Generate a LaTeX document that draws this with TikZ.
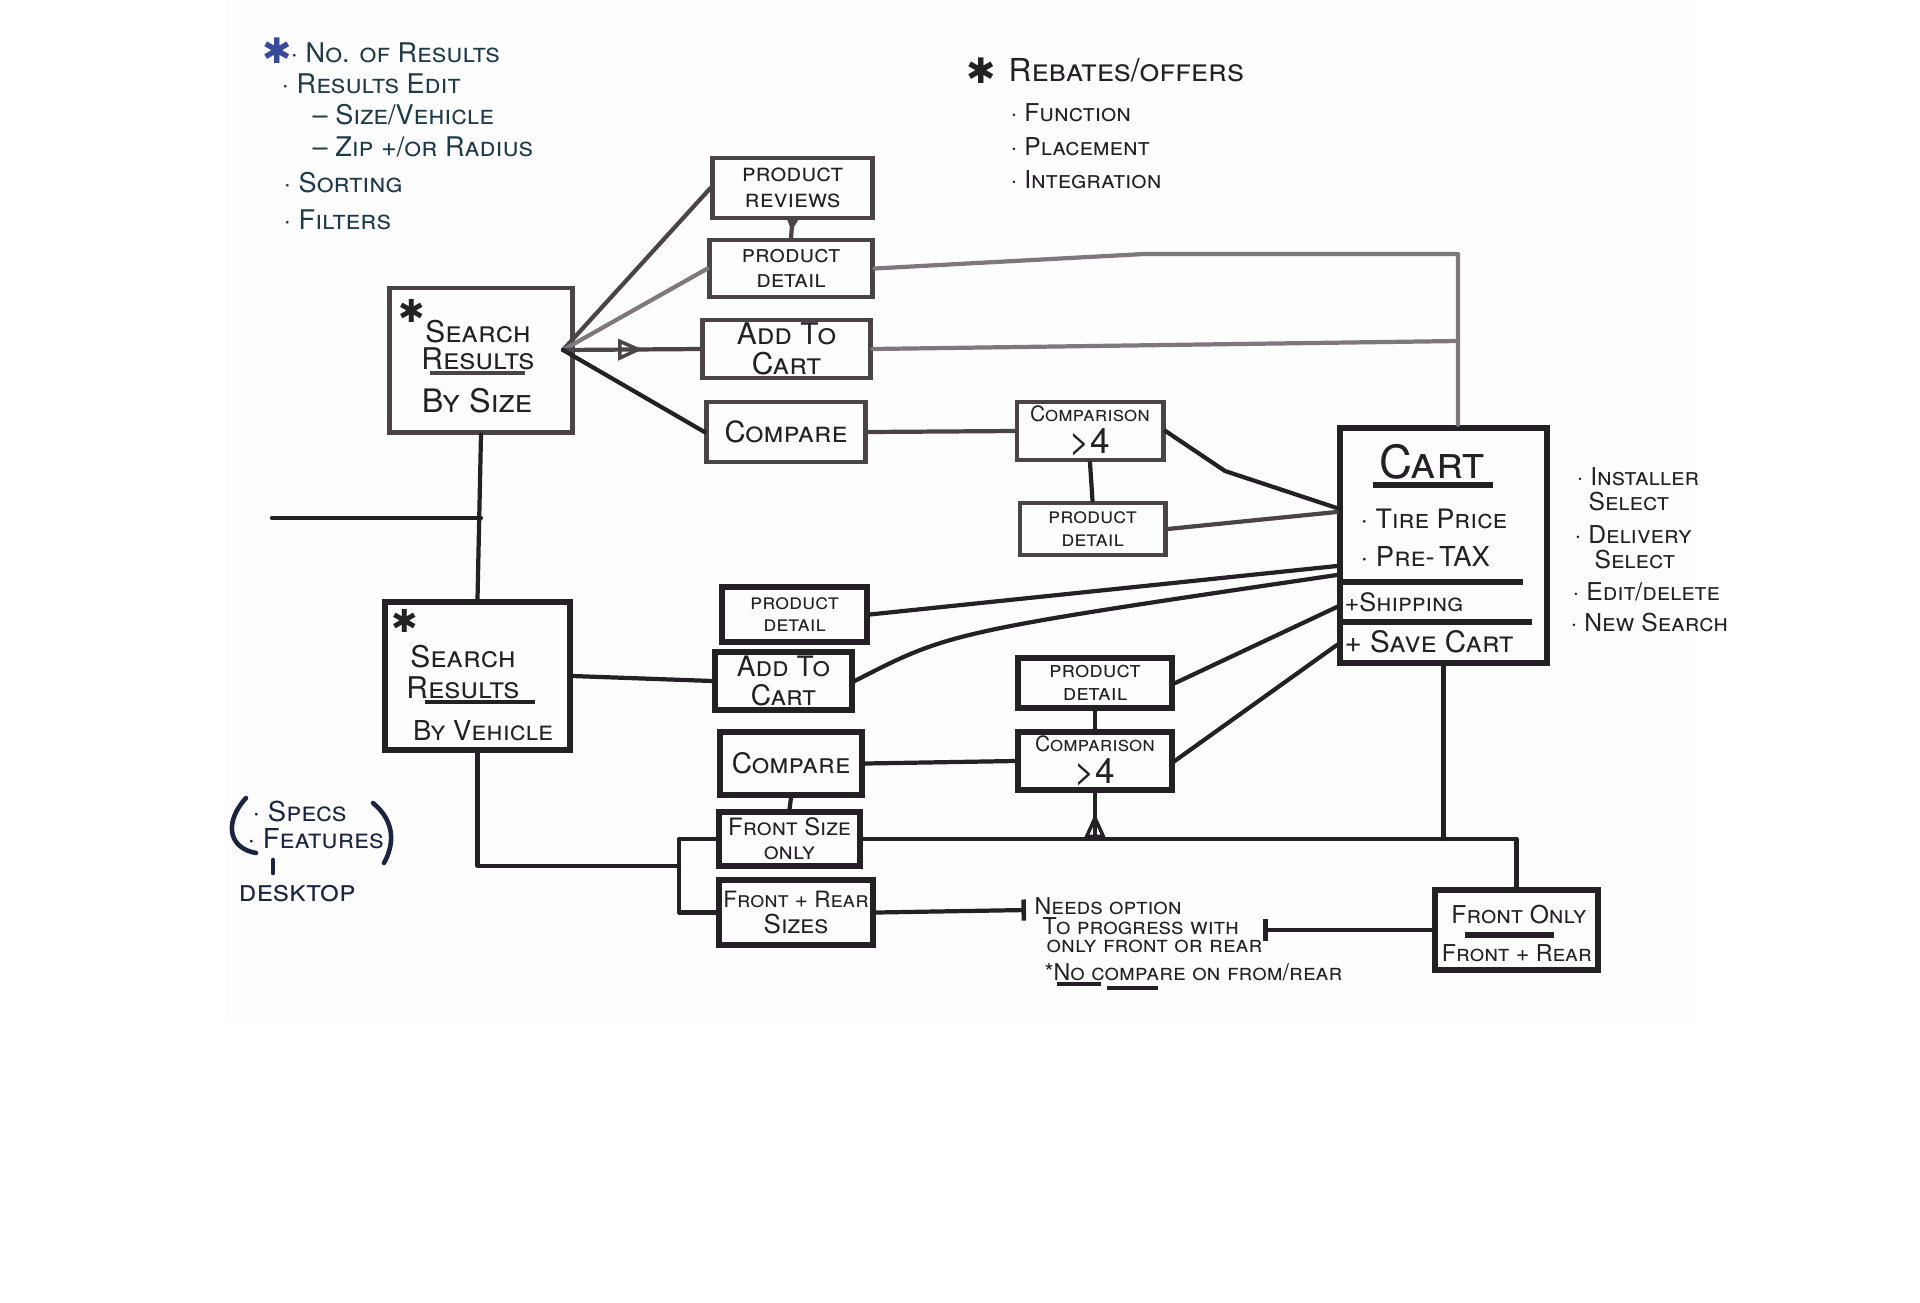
\documentclass[tikz,border=0pt]{standalone}
\usepackage{fontspec}
\newfontfamily\hw[Letters=SmallCaps]{TeX Gyre Heros}
\newfontfamily\dv{DejaVu Sans}
\usetikzlibrary{arrows.meta,decorations.markings,calc}
\definecolor{ink}{HTML}{232123}
\definecolor{inkg}{HTML}{4A4446}
\definecolor{inkl}{HTML}{7E777B}
\definecolor{blueink}{HTML}{1F3A48}
\definecolor{navy}{HTML}{1C2540}
\definecolor{starblue}{HTML}{3A4A9A}
\definecolor{paper}{HTML}{FDFDFD}
\newcommand{\fs}[1]{\hw\fontsize{#1}{#1}\selectfont}
\tikzset{
  box/.style={draw=inkg, line width=1.4pt, inner sep=0pt, align=center, text=ink, font=\fs{7}},
  dbox/.style={box, draw=ink, line width=1.5pt},
  txt/.style={inner sep=0pt, align=center, text=ink},
  note/.style={inner sep=0pt, anchor=west, text=ink},
  wire/.style={draw=inkg, line width=1.2pt, line cap=round, line join=round},
  dwire/.style={wire, draw=ink},
  lwire/.style={wire, draw=inkl},
  midarrow/.style={postaction={decorate}, decoration={markings,
     mark=at position #1 with {\arrow{Triangle[open, length=7pt, width=6pt, line width=1pt]}}}},
  midarrow/.default=0.5,
  smallarrow/.style={postaction={decorate}, decoration={markings,
     mark=at position 0.6 with {\arrow{Stealth[length=4pt, width=4pt]}}}},
  tbar/.style={-{Bar[width=6pt, line width=1.3pt]}},
}
\begin{document}
\begin{tikzpicture}[x=0.01cm, y=-0.01cm]
\useasboundingbox (0,0) rectangle (1920,1302);
\fill[paper] (226,0) rectangle (1696,1022);

% ---- top-left notes
\node[txt, text=starblue, font=\dv\fontsize{10}{10}\selectfont] (tlStar) at (277,51) {✱};
\begin{scope}[every node/.style={note, text=blueink, font=\fs{7.7}}]
\node (tl1) at (290,53) {· No. of Results};
\node (tl2) at (281,84) {· Results Edit};
\node (tl3) at (312,115) {– Size/Vehicle};
\node (tl4) at (312,147) {– Zip +/or Radius};
\node (tl5) at (283,183) {· Sorting};
\node (tl6) at (283,220) {· Filters};
\end{scope}

% ---- top-right notes
\node[txt, font=\dv\fontsize{10}{10}\selectfont] (trStar) at (981,71) {✱};
\node[note, font=\fs{9}] (tr1) at (1008,70) {Rebates/offers};
\begin{scope}[every node/.style={note, font=\fs{7}}]
\node (tr2) at (1010,113) {· Function};
\node (tr3) at (1010,147) {· Placement};
\node (tr4) at (1010,180) {· Integration};
\end{scope}

% ---- boxes upper
\node[box, minimum width=1.59cm, minimum height=0.60cm, font=\fs{7.2}] (pr) at (792.5,188) {product\\reviews};
\node[box, minimum width=1.62cm, minimum height=0.57cm, font=\fs{7}] (pd1) at (791,268.5) {product\\detail};
\node[box, minimum width=1.67cm, minimum height=0.58cm, font=\fs{8.5}] (atc1) at (786.5,349) {Add To\\Cart};
\node[box, minimum width=1.58cm, minimum height=0.60cm, font=\fs{8.3}] (cmp1) at (786,432) {Compare};
\node[box, minimum width=1.46cm, minimum height=0.58cm, font=\fs{6}] (cn1) at (1090,431) {Comparison\\[1pt]{\fontsize{10}{10}\selectfont >4}};
\node[box, minimum width=1.45cm, minimum height=0.52cm, font=\fs{6.3}] (pd2) at (1092.5,529) {product\\detail};

% search by size
\node[box, minimum width=1.82cm, minimum height=1.44cm] (ss) at (481,360) {};
\node[txt, font=\dv\fontsize{9}{9}\selectfont] (ssStar) at (412,311) {✱};
\node[txt, font=\hw\fontsize{8.5}{7.6}\selectfont] (ssT) at (478,345) {Search\\Results};
\draw[inkg, line width=1.3pt] (430,373) -- (525,373);
\node[txt, font=\fs{9.2}] (ssB) at (477,401) {By Size};

% search by vehicle
\node[dbox, minimum width=1.85cm, minimum height=1.48cm] (sv) at (477.5,676) {};
\node[txt, font=\dv\fontsize{9}{9}\selectfont] (svStar) at (405,621) {✱};
\node[txt, font=\hw\fontsize{8.5}{8.6}\selectfont] (svT) at (463,672) {Search\\Results};
\draw[ink, line width=1.3pt] (425,702) -- (535,702);
\node[txt, font=\fs{7.8}] (svB) at (483,731) {By Vehicle};

% cart
\node[dbox, line width=1.8pt, minimum width=2.07cm, minimum height=2.35cm] (cart) at (1443.5,545.5) {};
\node[txt, font=\fs{13}] (cartT) at (1432,462) {Cart};
\draw[ink, line width=1.8pt] (1373,485) -- (1493,485);
\node[note, font=\fs{7.6}] (cart1) at (1360,519) {· Tire Price};
\node[note, font=\fs{7.8}] (cart2) at (1360,556) {· Pre-\,TAX};
\draw[ink, line width=1.6pt] (1342,582) -- (1523,582);
\node[note, font=\fs{7.2}] (cart3) at (1344,602) {+Shipping};
\draw[ink, line width=1.6pt] (1343,622) -- (1532,622);
\node[note, font=\fs{8.4}] (cart4) at (1344,642) {+ Save Cart};

% cart side notes
\begin{scope}[every node/.style={note, font=\fs{7}}]
\node (cs1) at (1576,477) {· Installer};
\node (cs2) at (1588,502) {Select};
\node (cs3) at (1574,535) {· Delivery};
\node (cs4) at (1594,560) {Select};
\node (cs5) at (1572,592) {· Edit/delete};
\node (cs6) at (1570,623) {· New Search};
\end{scope}

% ---- boxes lower
\node[dbox, minimum width=1.45cm, minimum height=0.55cm, font=\fs{6.3}] (pd3) at (794.5,614.5) {product\\detail};
\node[dbox, minimum width=1.37cm, minimum height=0.58cm, font=\fs{8}] (atc2) at (783.5,681) {Add To\\Cart};
\node[dbox, minimum width=1.42cm, minimum height=0.63cm, font=\fs{8}] (cmp2) at (791,763.5) {Compare};
\node[dbox, line width=1.8pt, minimum width=1.54cm, minimum height=0.50cm, font=\fs{6.5}] (pd4) at (1095,683) {product\\detail};
\node[dbox, minimum width=1.54cm, minimum height=0.58cm, font=\fs{6}] (cn2) at (1095,761) {Comparison\\[1pt]{\fontsize{10}{10}\selectfont >4}};
\node[dbox, minimum width=1.41cm, minimum height=0.54cm, font=\fs{6.8}] (fso) at (789.5,839) {Front Size\\only};
\node[dbox, minimum width=1.54cm, minimum height=0.65cm, font=\fs{6.4}] (frs) at (796,912.5) {Front + Rear\\[1pt]{\fontsize{7.4}{7.4}\selectfont Sizes}};

% front only
\node[dbox, line width=1.9pt, minimum width=1.63cm, minimum height=0.80cm] (fo) at (1516.5,930) {};
\node[txt, font=\fs{7}] (foT) at (1519,915) {Front Only};
\draw[ink, line width=1.6pt] (1465,935) -- (1554,935);
\node[txt, font=\fs{6.6}] (foB) at (1517,953) {Front + Rear};

% needs option note
\begin{scope}[every node/.style={note, font=\fs{6.6}}]
\node (nd1) at (1034,906) {Needs option};
\node (nd2) at (1042,926) {To progress with};
\node (nd3) at (1046,946) {only front or rear};
\node (nd4) at (1044,972) {*No compare on from/rear};
\end{scope}
\draw[ink, line width=1.3pt] (1057,984) -- (1101,984);
\draw[ink, line width=1.3pt] (1107,988) -- (1158,988);

% specs / features / desktop
\begin{scope}[every node/.style={note, text=navy, font=\fs{7.8}}]
\node (sp1) at (252,811) {· Specs};
\node (sp2) at (247,839) {· Features};
\end{scope}
\node[note, text=navy, font=\fs{8.6}] (desk) at (238,894) {desktop};
\draw[navy, line width=1.3pt, line cap=round] (246,798) .. controls (224,822) and (228,848) .. (256,853);
\draw[navy, line width=1.3pt, line cap=round] (373,803) .. controls (396,822) and (394,845) .. (384,863);
\draw[navy, line width=1.3pt, line cap=round] (273,860) -- (273,873);

% ---- connectors
\coordinate (fan) at (563,350);
\coordinate (c1) at (1458,254);
\coordinate (c2) at (1458,341);
\coordinate (lft) at (272,518);
\coordinate (brk) at (679,866);
\coordinate (ndL) at (1026,910);
\coordinate (foL) at (1263,930);

\draw[wire] (fan) -- (pr.west);
\draw[lwire] (fan) -- (pd1.west);
\draw[wire, midarrow=0.58] (fan) -- (atc1.west);
\draw[dwire] (fan) -- (cmp1.west);
\draw[wire, smallarrow] (pr.south) -- (pd1.north);
\draw[lwire] (pd1.east) -- (1144,254) -- (c1) -- (c1 |- cart.north);
\draw[lwire] (atc1.east) -- (c2);
\draw[wire] (cmp1.east) -- (cn1.west);
\draw[dwire] (cn1.south) -- (pd2.north);
\draw[dwire] (cn1.east) -- (1225,471) -- ([yshift=0.375cm]cart.west);
\draw[wire] (pd2.east) -- ([yshift=0.335cm]cart.west);
\draw[dwire] (ss.south) -- (sv.north);
\draw[dwire] (lft) -- (lft -| ss.south);
\draw[dwire] (pd3.east) -- ([yshift=-0.205cm]cart.west);
\draw[dwire] (atc2.east) .. controls (950,632) .. ([yshift=-0.295cm]cart.west);
\draw[dwire] (pd4.east) -- ([yshift=-0.615cm]cart.west);
\draw[dwire] (cn2.east) -- ([yshift=-0.995cm]cart.west);
\draw[dwire] (pd4.south) -- (cn2.north);
\draw[dwire] (cmp2.east) -- (cn2.west);
\draw[dwire] (sv.east) -- (atc2.west);
\draw[dwire] (sv.south) |- (brk);
\draw[dwire] (fso.west) -- (fso.west -| brk) -- (frs.west -| brk) -- (frs.west);
\draw[dwire] (cmp2.south) -- (fso.north);
\draw[dwire] (fso.east) -| (fo.north);
\draw[dwire] (cart.south) -- (cart.south |- fso.east);
\draw[dwire, midarrow=0.55] (cn2.south |- fso.east) -- (cn2.south);
\draw[dwire, tbar] (frs.east) -- (ndL);
\draw[dwire, tbar] (fo.west) -- (foL);
\end{tikzpicture}
\end{document}
